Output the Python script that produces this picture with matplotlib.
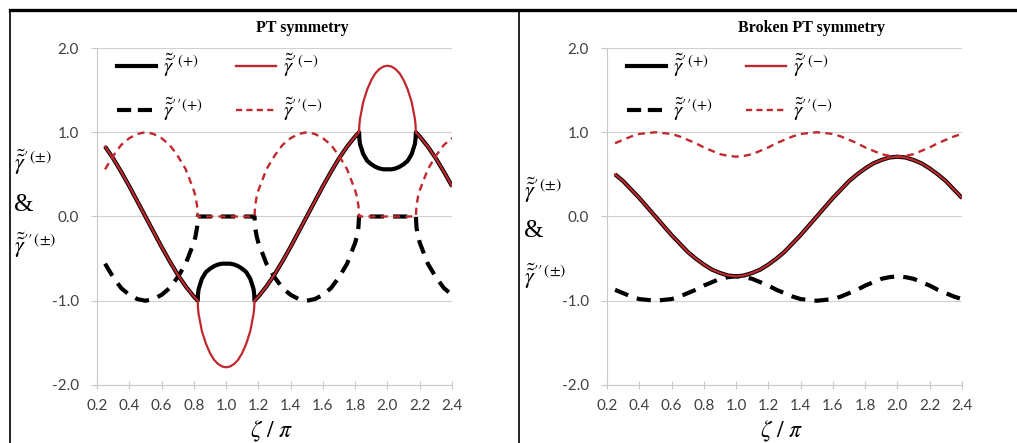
import matplotlib
matplotlib.use("Agg")
import matplotlib.pyplot as plt
from matplotlib.lines import Line2D

plt.rcParams["mathtext.fontset"] = "stix"

# ---- data: PT symmetry panel ----
zeta_a = [0.25, 0.30, 0.35, 0.40, 0.45, 0.50, 0.55, 0.60, 0.65, 0.70, 0.75, 0.80,
          0.81, 0.82, 0.824,
          0.826, 0.83, 0.85, 0.875, 0.90, 0.925, 0.95, 0.975, 1.00,
          1.025, 1.05, 1.075, 1.10, 1.125, 1.15, 1.17, 1.174,
          1.176, 1.18, 1.19, 1.20,
          1.25, 1.30, 1.35, 1.40, 1.45, 1.50, 1.55, 1.60, 1.65, 1.70, 1.75, 1.80,
          1.81, 1.82, 1.824,
          1.826, 1.83, 1.85, 1.875, 1.90, 1.925, 1.95, 1.975, 2.00,
          2.025, 2.05, 2.075, 2.10, 2.125, 2.15, 2.17, 2.174,
          2.176, 2.18, 2.19, 2.20,
          2.25, 2.30, 2.35, 2.40]
re_plus_a = [0.83, 0.69, 0.53, 0.36, 0.18, 0.00, -0.18, -0.36, -0.53, -0.69, -0.83, -0.95,
             -0.97, -0.99, -1.00,
             -0.92, -0.86, -0.74, -0.66, -0.62, -0.59, -0.57, -0.56, -0.56,
             -0.56, -0.57, -0.59, -0.62, -0.66, -0.74, -0.86, -0.92,
             -1.00, -0.99, -0.97, -0.95,
             -0.83, -0.69, -0.53, -0.36, -0.18, 0.00, 0.18, 0.36, 0.53, 0.69, 0.83, 0.95,
             0.97, 0.99, 1.00,
             0.92, 0.86, 0.74, 0.66, 0.62, 0.59, 0.57, 0.56, 0.56,
             0.56, 0.57, 0.59, 0.62, 0.66, 0.74, 0.86, 0.92,
             1.00, 0.99, 0.97, 0.95,
             0.83, 0.69, 0.53, 0.36]
re_minus_a = [0.83, 0.69, 0.53, 0.36, 0.18, 0.00, -0.18, -0.36, -0.53, -0.69, -0.83, -0.95,
              -0.97, -0.99, -1.00,
              -1.09, -1.16, -1.36, -1.51, -1.62, -1.70, -1.75, -1.78, -1.79,
              -1.78, -1.75, -1.70, -1.62, -1.51, -1.36, -1.16, -1.09,
              -1.00, -0.99, -0.97, -0.95,
              -0.83, -0.69, -0.53, -0.36, -0.18, 0.00, 0.18, 0.36, 0.53, 0.69, 0.83, 0.95,
              0.97, 0.99, 1.00,
              1.09, 1.16, 1.36, 1.51, 1.62, 1.70, 1.75, 1.78, 1.79,
              1.78, 1.75, 1.70, 1.62, 1.51, 1.36, 1.16, 1.09,
              1.00, 0.99, 0.97, 0.95,
              0.83, 0.69, 0.53, 0.36]
# imaginary parts: (+) branch negative (black dashed), (-) branch positive (red dashed)
im_plus_a = [-0.56, -0.72, -0.85, -0.93, -0.98, -1.00, -0.98, -0.93, -0.85, -0.72, -0.56, -0.31,
             -0.24, -0.13, 0.00,
             0.00, 0.00, 0.00, 0.00, 0.00, 0.00, 0.00, 0.00, 0.00,
             0.00, 0.00, 0.00, 0.00, 0.00, 0.00, 0.00, 0.00,
             0.00, -0.13, -0.24, -0.31,
             -0.56, -0.72, -0.85, -0.93, -0.98, -1.00, -0.98, -0.93, -0.85, -0.72, -0.56, -0.31,
             -0.24, -0.13, 0.00,
             0.00, 0.00, 0.00, 0.00, 0.00, 0.00, 0.00, 0.00, 0.00,
             0.00, 0.00, 0.00, 0.00, 0.00, 0.00, 0.00, 0.00,
             0.00, -0.13, -0.24, -0.31,
             -0.56, -0.72, -0.85, -0.93]
im_minus_a = [0.56, 0.72, 0.85, 0.93, 0.98, 1.00, 0.98, 0.93, 0.85, 0.72, 0.56, 0.31,
              0.24, 0.13, 0.00,
              0.00, 0.00, 0.00, 0.00, 0.00, 0.00, 0.00, 0.00, 0.00,
              0.00, 0.00, 0.00, 0.00, 0.00, 0.00, 0.00, 0.00,
              0.00, 0.13, 0.24, 0.31,
              0.56, 0.72, 0.85, 0.93, 0.98, 1.00, 0.98, 0.93, 0.85, 0.72, 0.56, 0.31,
              0.24, 0.13, 0.00,
              0.00, 0.00, 0.00, 0.00, 0.00, 0.00, 0.00, 0.00, 0.00,
              0.00, 0.00, 0.00, 0.00, 0.00, 0.00, 0.00, 0.00,
              0.00, 0.13, 0.24, 0.31,
              0.56, 0.72, 0.85, 0.93]

# ---- data: broken PT symmetry panel ----
zeta_b = [0.25, 0.30, 0.35, 0.40, 0.45, 0.50, 0.55, 0.60, 0.65, 0.70, 0.75, 0.80,
          0.85, 0.90, 0.95, 1.00, 1.05, 1.10, 1.15, 1.20, 1.25, 1.30, 1.35, 1.40,
          1.45, 1.50, 1.55, 1.60, 1.65, 1.70, 1.75, 1.80, 1.85, 1.90, 1.95, 2.00,
          2.05, 2.10, 2.15, 2.20, 2.25, 2.30, 2.35, 2.40]
re_b = [0.50, 0.42, 0.32, 0.22, 0.11, 0.00, -0.11, -0.22, -0.32, -0.42, -0.50, -0.57,
        -0.63, -0.67, -0.70, -0.71, -0.70, -0.67, -0.63, -0.57, -0.50, -0.42, -0.32, -0.22,
        -0.11, 0.00, 0.11, 0.22, 0.32, 0.42, 0.50, 0.57, 0.63, 0.67, 0.70, 0.71,
        0.70, 0.67, 0.63, 0.57, 0.50, 0.42, 0.32, 0.22]
im_plus_b = [-0.87, -0.91, -0.95, -0.98, -0.99, -1.00, -0.99, -0.98, -0.95, -0.91, -0.87, -0.82,
             -0.78, -0.74, -0.72, -0.71, -0.72, -0.74, -0.78, -0.82, -0.87, -0.91, -0.95, -0.98,
             -0.99, -1.00, -0.99, -0.98, -0.95, -0.91, -0.87, -0.82, -0.78, -0.74, -0.72, -0.71,
             -0.72, -0.74, -0.78, -0.82, -0.87, -0.91, -0.95, -0.98]
im_minus_b = [0.87, 0.91, 0.95, 0.98, 0.99, 1.00, 0.99, 0.98, 0.95, 0.91, 0.87, 0.82,
              0.78, 0.74, 0.72, 0.71, 0.72, 0.74, 0.78, 0.82, 0.87, 0.91, 0.95, 0.98,
              0.99, 1.00, 0.99, 0.98, 0.95, 0.91, 0.87, 0.82, 0.78, 0.74, 0.72, 0.71,
              0.72, 0.74, 0.78, 0.82, 0.87, 0.91, 0.95, 0.98]

xticks = [0.2, 0.4, 0.6, 0.8, 1.0, 1.2, 1.4, 1.6, 1.8, 2.0, 2.2, 2.4]
yticks = [-2.0, -1.0, 0.0, 1.0, 2.0]

RED = "#c0282d"
W, H = 1017, 443

fig = plt.figure(figsize=(W / 100, H / 100), dpi=100)


def panel(x0, zeta, re_p, re_m, im_p, im_m, title, ylab_y):
    ax = fig.add_axes([x0 / W, 1 - 385 / H, 355 / W, 337 / H])
    ax.plot(zeta, re_p, color="black", lw=3.0, solid_capstyle="butt", zorder=3)
    ax.plot(zeta, re_m, color=RED, lw=1.6, zorder=4)
    ax.plot(zeta, im_p, color="black", lw=3.0, dashes=(3.4, 2.2), zorder=3)
    ax.plot(zeta, im_m, color=RED, lw=1.7, dashes=(3.0, 2.2), zorder=4)

    ax.set_xlim(0.2, 2.4)
    ax.set_ylim(-2.0, 2.0)
    ax.set_xticks(xticks)
    ax.set_xticklabels([f"{v:.1f}" for v in xticks])
    ax.set_yticks(yticks)
    ax.set_yticklabels([f"{v:.1f}" for v in yticks])
    for s in ["top", "right"]:
        ax.spines[s].set_visible(False)
    for s in ["left", "bottom"]:
        ax.spines[s].set_color("#c8c8c8")
        ax.spines[s].set_linewidth(0.8)
    ax.yaxis.grid(True, color="#d0d0d0", lw=0.8)
    ax.set_axisbelow(True)
    ax.tick_params(axis="x", direction="inout", length=6, color="#c8c8c8",
                   labelsize=11, labelcolor="#404040", pad=7)
    ax.tick_params(axis="y", direction="out", length=4, color="#c8c8c8",
                   labelsize=11, labelcolor="#404040", pad=9)
    for lab in ax.get_xticklabels() + ax.get_yticklabels():
        lab.set_family("Lato")

    handles = [
        Line2D([], [], color="black", lw=3.0),
        Line2D([], [], color="black", lw=3.0, dashes=(3.4, 1.6)),
        Line2D([], [], color=RED, lw=1.7),
        Line2D([], [], color=RED, lw=1.7, dashes=(2.6, 1.8)),
    ]
    labels = [r"$\tilde{\tilde{\gamma}}'^{(+)}$", r"$\tilde{\tilde{\gamma}}''^{(+)}$",
              r"$\tilde{\tilde{\gamma}}'^{(-)}$", r"$\tilde{\tilde{\gamma}}''^{(-)}$"]
    ax.legend(handles, labels, ncol=2, loc="upper left", bbox_to_anchor=(0.02, 1.025),
              frameon=False, fontsize=15, handlelength=1.9, handletextpad=0.35,
              columnspacing=1.6, labelspacing=0.8, borderaxespad=0.2)

    cx = x0 + 205
    fig.text(cx / W, 1 - 28 / H, title, ha="center", va="center",
             family="Liberation Serif", weight="bold", fontsize=11.5)
    fig.text((x0 + 175) / W, 1 - 431 / H, r"$\zeta\ /\ \pi$", ha="center",
             va="center", fontsize=17)
    lx = x0 - 83
    fig.text(lx / W, 1 - ylab_y[0] / H, r"$\tilde{\tilde{\gamma}}'^{(\pm)}$",
             ha="left", va="center", fontsize=16)
    fig.text(lx / W, 1 - ylab_y[1] / H, "&", ha="left", va="center",
             family="Liberation Serif", fontsize=18)
    fig.text(lx / W, 1 - ylab_y[2] / H, r"$\tilde{\tilde{\gamma}}''^{(\pm)}$",
             ha="left", va="center", fontsize=16)
    return ax


panel(97, zeta_a, re_plus_a, re_minus_a, im_plus_a, im_minus_a,
      "PT symmetry", (162, 205, 245))
panel(607, zeta_b, re_b, re_b, im_plus_b, im_minus_b,
      "Broken PT symmetry", (190, 231, 276))

# chart frame
fig.add_artist(Line2D([10 / W, 1], [1 - 9.5 / H, 1 - 9.5 / H], color="black", lw=2.4))
fig.add_artist(Line2D([10 / W, 10 / W], [0, 1 - 9.5 / H], color="black", lw=1.2))
fig.add_artist(Line2D([519 / W, 519 / W], [0, 1 - 9.5 / H], color="black", lw=1.2))

fig.savefig("out.png", dpi=100)
